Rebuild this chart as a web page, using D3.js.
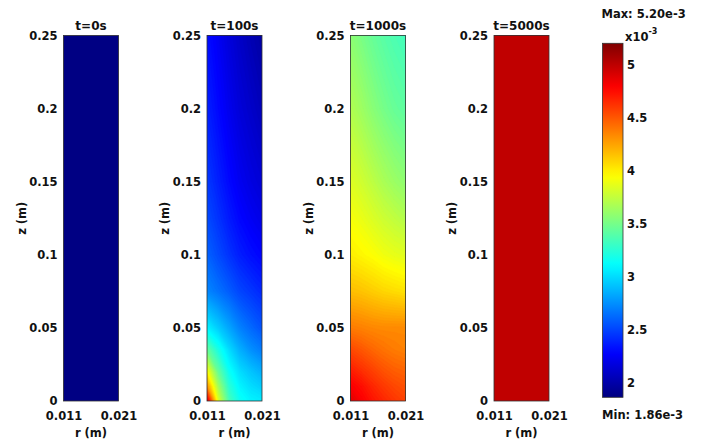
<!DOCTYPE html>
<html><head><meta charset="utf-8">
<script src="https://cdn.jsdelivr.net/npm/d3@7"></script>
<style>
body{margin:0;background:#fff}
text{font-family:"DejaVu Sans",Verdana,sans-serif;font-weight:bold;fill:#111}
</style>
</head><body>
<svg id="c" width="701" height="442"></svg>
<script>
// ---------- data ----------
const titles = ["t=0s", "t=100s", "t=1000s", "t=5000s"];
const rNodes = [0.011, 0.013, 0.015, 0.017, 0.019, 0.021];
const zNodes = [0, 0.01, 0.02, 0.035, 0.05, 0.075, 0.1, 0.125, 0.15, 0.2, 0.25];
const zTicks = [0, 0.05, 0.1, 0.15, 0.2, 0.25];
const rTicks = [0.011, 0.021];
const cbarTicks = [2, 2.5, 3, 3.5, 4, 4.5, 5];
const vMin = 1.86, vMax = 5.20;   // x10^-3
const maxLabel = "Max: 5.20e-3";
const minLabel = "Min: 1.86e-3";

// values (x10^-3); rows follow zNodes (bottom to top), columns follow rNodes
const field0 = [
  [1.86,1.86,1.86,1.86,1.86,1.86],
  [1.86,1.86,1.86,1.86,1.86,1.86],
  [1.86,1.86,1.86,1.86,1.86,1.86],
  [1.86,1.86,1.86,1.86,1.86,1.86],
  [1.86,1.86,1.86,1.86,1.86,1.86],
  [1.86,1.86,1.86,1.86,1.86,1.86],
  [1.86,1.86,1.86,1.86,1.86,1.86],
  [1.86,1.86,1.86,1.86,1.86,1.86],
  [1.86,1.86,1.86,1.86,1.86,1.86],
  [1.86,1.86,1.86,1.86,1.86,1.86],
  [1.86,1.86,1.86,1.86,1.86,1.86]
];
const field100 = [
  [4.90,3.85,3.35,3.15,3.08,3.05],
  [4.30,3.65,3.25,3.08,3.00,2.95],
  [3.95,3.45,3.15,3.00,2.92,2.85],
  [3.45,3.20,3.00,2.85,2.75,2.68],
  [3.08,2.95,2.82,2.70,2.62,2.55],
  [2.72,2.65,2.58,2.50,2.45,2.40],
  [2.60,2.52,2.44,2.37,2.32,2.28],
  [2.52,2.44,2.36,2.29,2.24,2.20],
  [2.46,2.38,2.30,2.23,2.18,2.14],
  [2.38,2.30,2.22,2.15,2.10,2.05],
  [2.32,2.24,2.16,2.09,2.03,1.98]
];
const field1000 = [
  [4.88,4.80,4.72,4.66,4.61,4.57],
  [4.80,4.74,4.66,4.60,4.55,4.52],
  [4.70,4.64,4.58,4.52,4.48,4.46],
  [4.55,4.50,4.45,4.41,4.38,4.36],
  [4.38,4.36,4.34,4.33,4.33,4.33],
  [4.16,4.14,4.11,4.08,4.06,4.04],
  [4.00,3.97,3.94,3.90,3.87,3.85],
  [3.92,3.88,3.83,3.78,3.74,3.70],
  [3.84,3.79,3.73,3.67,3.62,3.58],
  [3.69,3.63,3.56,3.50,3.45,3.42],
  [3.57,3.51,3.45,3.40,3.36,3.33]
];
const field5000 = [
  [4.98,4.98,4.98,4.98,4.98,4.98],
  [4.98,4.98,4.98,4.98,4.98,4.98],
  [4.98,4.98,4.98,4.98,4.98,4.98],
  [4.98,4.98,4.98,4.98,4.98,4.98],
  [4.98,4.98,4.98,4.98,4.98,4.98],
  [4.98,4.98,4.98,4.98,4.98,4.98],
  [4.98,4.98,4.98,4.98,4.98,4.98],
  [4.98,4.98,4.98,4.98,4.98,4.98],
  [4.98,4.98,4.98,4.98,4.98,4.98],
  [4.98,4.98,4.98,4.98,4.98,4.98],
  [4.98,4.98,4.98,4.98,4.98,4.98]
];
const fields = [field0, field100, field1000, field5000];

// ---------- drawing ----------
function jet(t) {
  const c = x => Math.max(0, Math.min(1, x));
  return d3.rgb(255 * c(1.5 - Math.abs(4 * t - 3)),
                255 * c(1.5 - Math.abs(4 * t - 2)),
                255 * c(1.5 - Math.abs(4 * t - 1))).formatHex();
}
const color = d3.scaleSequential(jet).domain([vMin, vMax]);

const svg = d3.select("#c");
const defs = svg.append("defs");
const panelW = 55, pTop = 35.5, pBottom = 401, x0 = 63.5, dx = 143.5;
const yScale = d3.scaleLinear().domain([0, 0.25]).range([pBottom, pTop]);
const step = 0.02;
const thresholds = d3.range(vMin, vMax, step);
const fontStack = '"DejaVu Sans",Verdana,sans-serif';

fields.forEach((f, k) => {
  const left = x0 + k * dx;
  const xScale = d3.scaleLinear().domain([0.011, 0.021]).range([left, left + panelW]);
  const gx = d3.scaleLinear().domain(rNodes.map((_, i) => i + 0.5)).range(rNodes);
  const gy = d3.scaleLinear().domain(zNodes.map((_, i) => i + 0.5)).range(zNodes);
  const values = f.flat();
  const g = svg.append("g");

  defs.append("clipPath").attr("id", "clip" + k)
    .append("rect").attr("x", left).attr("y", pTop)
    .attr("width", panelW).attr("height", pBottom - pTop);

  const body = g.append("g").attr("clip-path", `url(#clip${k})`);
  body.append("rect").attr("x", left).attr("y", pTop)
    .attr("width", panelW).attr("height", pBottom - pTop)
    .attr("fill", color(d3.min(values)));

  const contours = d3.contours().size([rNodes.length, zNodes.length])
    .thresholds(thresholds)(values);
  const proj = d3.geoTransform({
    point(x, y) { this.stream.point(xScale(gx(x)), yScale(gy(y))); }
  });
  const path = d3.geoPath(proj);
  body.selectAll("path").data(contours).join("path")
    .attr("d", path)
    .attr("fill", d => color(Math.min(vMax, d.value + step / 2)))
    .attr("stroke", d => color(Math.min(vMax, d.value + step / 2)))
    .attr("stroke-width", 0.3);

  g.append("rect").attr("x", left).attr("y", pTop)
    .attr("width", panelW).attr("height", pBottom - pTop)
    .attr("fill", "none").attr("stroke", "#333").attr("stroke-width", 0.8);

  // axes
  const ya = g.append("g").attr("transform", `translate(${left},0)`)
    .call(d3.axisLeft(yScale).tickValues(zTicks).tickSize(0).tickPadding(6)
      .tickFormat(d => String(d)));
  ya.select(".domain").remove();
  ya.selectAll("text").style("font-family", fontStack)
    .style("font-size", "11.5px").style("font-weight", "bold").attr("fill", "#111");

  const xa = g.append("g").attr("transform", `translate(0,${pBottom})`)
    .call(d3.axisBottom(xScale).tickValues(rTicks).tickSize(0).tickPadding(10.5)
      .tickFormat(d => String(d)));
  xa.select(".domain").remove();
  xa.selectAll("text").style("font-family", fontStack)
    .style("font-size", "11.5px").style("font-weight", "bold").attr("fill", "#111");

  g.append("text").attr("x", left + panelW / 2).attr("y", 30)
    .attr("text-anchor", "middle").style("font-size", "12px").text(titles[k]);
  g.append("text").attr("x", left + panelW / 2).attr("y", 437)
    .attr("text-anchor", "middle").style("font-size", "11.5px").text("r (m)");
  g.append("text")
    .attr("transform", `translate(${left - 42},${(pTop + pBottom) / 2}) rotate(-90)`)
    .attr("text-anchor", "middle").attr("dominant-baseline", "central")
    .style("font-size", "11.5px").text("z (m)");
});

// ---------- colorbar ----------
const cbX = 602.5, cbW = 20.5, cbTop = 43.3, cbBot = 397.3;
const cScale = d3.scaleLinear().domain([vMin, vMax]).range([cbBot, cbTop]);
const grad = defs.append("linearGradient").attr("id", "cbgrad")
  .attr("x1", 0).attr("y1", 1).attr("x2", 0).attr("y2", 0);
grad.selectAll("stop").data(d3.range(0, 1.0001, 0.02)).join("stop")
  .attr("offset", d => d).attr("stop-color", d => color(vMin + d * (vMax - vMin)));
svg.append("rect").attr("x", cbX).attr("y", cbTop).attr("width", cbW)
  .attr("height", cbBot - cbTop).attr("fill", "url(#cbgrad)")
  .attr("stroke", "#333").attr("stroke-width", 0.8);
const ca = svg.append("g").attr("transform", `translate(${cbX + cbW},0)`)
  .call(d3.axisRight(cScale).tickValues(cbarTicks).tickSize(0).tickPadding(4)
    .tickFormat(d => String(d)));
ca.select(".domain").remove();
ca.selectAll("text").style("font-family", fontStack)
  .style("font-size", "11.5px").style("font-weight", "bold").attr("fill", "#111");

const exp = svg.append("text").attr("x", 625).attr("y", 41).style("font-size", "11.5px");
exp.append("tspan").text("x10");
exp.append("tspan").attr("dy", -7).style("font-size", "8px").text("-3");
svg.append("text").attr("x", 601.5).attr("y", 18).style("font-size", "11.5px").text(maxLabel);
svg.append("text").attr("x", 602).attr("y", 419).style("font-size", "11.5px").text(minLabel);
</script>
</body></html>
